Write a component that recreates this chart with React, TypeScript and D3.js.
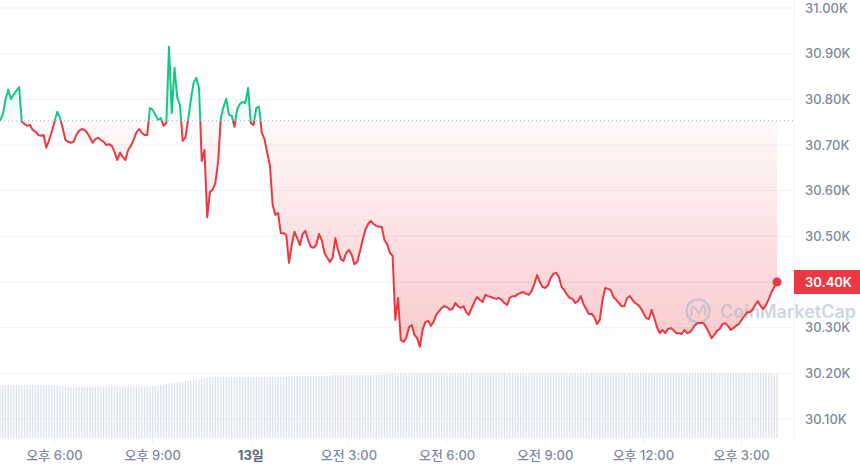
import React from "react";
import * as d3 from "d3";

// 5-minute BTC prices (USD), 12th 16:20 -> 13th 16:05
const PRICES: number[] = [
  30753,30766,30799,30821,30801,30810,30819,30827,30751,30746,
  30742,30744,30733,30729,30722,30720,30722,30694,30711,30729,
  30751,30773,30759,30737,30711,30707,30705,30707,30722,30731,
  30735,30733,30727,30716,30705,30713,30716,30711,30707,30700,
  30702,30698,30685,30667,30683,30674,30667,30689,30698,30711,
  30727,30735,30727,30722,30722,30781,30777,30766,30755,30759,
  30742,30748,30915,30770,30869,30805,30788,30709,30716,30755,
  30799,30836,30847,30825,30665,30689,30542,30597,30602,30617,
  30663,30759,30784,30801,30766,30764,30740,30779,30790,30794,
  30792,30825,30748,30744,30781,30784,30727,30713,30683,30656,
  30569,30547,30551,30507,30507,30503,30442,30481,30510,30496,
  30481,30505,30512,30492,30477,30475,30481,30505,30492,30464,
  30453,30444,30453,30496,30470,30450,30446,30464,30470,30459,
  30439,30444,30466,30492,30514,30527,30534,30527,30523,30521,
  30521,30492,30483,30464,30457,30317,30365,30273,30269,30277,
  30301,30306,30284,30277,30258,30295,30312,30315,30304,30312,
  30328,30336,30343,30347,30345,30339,30341,30354,30347,30343,
  30347,30334,30328,30343,30356,30367,30361,30356,30372,30369,
  30367,30365,30363,30365,30361,30354,30350,30365,30369,30369,
  30374,30376,30378,30374,30372,30380,30396,30415,30400,30389,
  30387,30393,30409,30418,30420,30411,30389,30382,30372,30365,
  30363,30354,30358,30369,30352,30341,30330,30330,30323,30308,
  30317,30361,30387,30385,30382,30367,30361,30354,30347,30347,
  30365,30369,30361,30354,30350,30343,30332,30321,30319,30339,
  30321,30301,30288,30295,30288,30297,30299,30295,30288,30288,
  30286,30295,30288,30290,30297,30306,30310,30310,30310,30301,
  30290,30277,30284,30293,30297,30308,30310,30304,30295,30299,
  30304,30308,30317,30325,30334,30334,30339,30350,30358,30347,
  30341,30350,30363,30378,30389,30400,
];

// 24h volume (billions USD) per point
const VOLUMES: number[] = [
  9.93,9.95,9.94,9.96,9.95,9.94,9.93,9.95,9.96,9.94,
  9.95,9.93,9.94,9.95,9.96,9.94,9.93,9.95,9.94,9.92,
  9.90,9.86,9.78,9.70,9.67,9.66,9.65,9.66,9.67,9.66,
  9.65,9.66,9.66,9.67,9.65,9.66,9.66,9.65,9.67,9.66,
  9.66,9.65,9.66,9.67,9.66,9.65,9.66,9.66,9.67,9.65,
  9.66,9.66,9.65,9.67,9.66,9.66,9.70,9.78,9.86,9.95,
  10.05,10.15,10.25,10.32,10.35,10.40,10.48,10.55,10.62,10.70,
  10.80,10.86,10.92,10.98,11.05,11.20,11.35,11.42,11.44,11.45,
  11.44,11.43,11.44,11.45,11.44,11.43,11.44,11.46,11.44,11.45,
  11.44,11.43,11.45,11.44,11.46,11.44,11.45,11.44,11.43,11.45,
  11.46,11.44,11.45,11.47,11.50,11.55,11.60,11.62,11.63,11.64,
  11.63,11.62,11.63,11.64,11.63,11.62,11.64,11.63,11.63,11.64,
  11.66,11.70,11.76,11.80,11.81,11.82,11.81,11.80,11.81,11.82,
  11.81,11.80,11.82,11.81,11.81,11.82,11.80,11.81,11.82,11.81,
  11.84,11.90,11.98,12.04,12.08,12.09,12.10,12.09,12.08,12.09,
  12.10,12.09,12.08,12.10,12.11,12.09,12.08,12.09,12.10,12.09,
  12.08,12.09,12.10,12.09,12.08,12.07,12.08,12.09,12.10,12.09,
  12.08,12.07,12.06,12.07,12.08,12.09,12.08,12.07,12.08,12.09,
  12.10,12.09,12.08,12.09,12.10,12.11,12.10,12.09,12.08,12.09,
  12.08,12.07,12.08,12.09,12.10,12.09,12.08,12.07,12.06,12.05,
  12.06,12.07,12.08,12.07,12.06,12.05,12.06,12.07,12.08,12.09,
  12.08,12.07,12.06,12.07,12.08,12.07,12.06,12.05,12.04,12.05,
  12.06,12.05,12.04,12.05,12.06,12.07,12.06,12.05,12.06,12.07,
  12.08,12.09,12.10,12.09,12.08,12.09,12.10,12.11,12.12,12.11,
  12.10,12.11,12.12,12.13,12.12,12.11,12.12,12.13,12.14,12.13,
  12.12,12.13,12.14,12.15,12.14,12.13,12.14,12.15,12.16,12.15,
  12.14,12.15,12.16,12.17,12.16,12.15,12.16,12.17,12.18,12.17,
  12.16,12.17,12.18,12.17,12.16,12.15,12.16,12.15,12.14,12.13,
  12.12,12.11,12.10,12.09,12.08,12.07,
];

const OPEN_PRICE = 30753;
const START = new Date(2023, 6, 12, 16, 20);
const STEP_MINUTES = 5;
const Y_TICKS = [30100, 30200, 30300, 30400, 30500, 30600, 30700, 30800, 30900, 31000];
const X_TICK_HOURS = [18, 21, 24, 27, 30, 33, 36, 39];
const X_TICK_LABELS = ["오후 6:00", "오후 9:00", "13일", "오전 3:00", "오전 6:00", "오전 9:00", "오후 12:00", "오후 3:00"];
const BOLD_TICKS = ["13일"];

const GREEN = "#16c784";
const RED = "#ea3943";
const AXIS_TEXT = "#808a9d";
const GRID = "#eff2f5";
const FONT = "Inter, 'Noto Sans CJK KR', sans-serif";

type Pt = { t: Date; p: number; v: number };

export default function App() {
  const W = 860;
  const H = 469;
  const data: Pt[] = PRICES.map((p, i) => ({
    t: new Date(START.getTime() + i * STEP_MINUTES * 60000),
    p,
    v: VOLUMES[i],
  }));
  const plotRight = 794;
  const volBottom = 438;

  const x = d3.scaleTime().domain([data[0].t, data[data.length - 1].t]).range([0, 777]);
  const y = d3.scaleLinear().domain([30100, 31000]).range([419, 8]);
  const yv = d3.scaleLinear().domain([0, 15]).range([volBottom, 358]);
  const by = y(OPEN_PRICE);

  const line = d3.line<Pt>().x((d) => x(d.t)).y((d) => y(d.p)).curve(d3.curveLinear);
  const area = d3.area<Pt>().x((d) => x(d.t)).y0(by).y1((d) => y(d.p));
  const linePath = line(data) || "";
  const areaPath = area(data) || "";

  const fmt = (v: number) => d3.format(".2f")(v / 1000) + "K";
  const last = data[data.length - 1];
  const tickTime = (h: number) => new Date(2023, 6, 12, h, 0);

  return (
    <svg
      width={W}
      height={H}
      style={{ position: "absolute", left: 0, top: 0, display: "block", background: "#fff" }}
      fontFamily={FONT}
    >
      <defs>
        <clipPath id="clipUp">
          <rect x={-5} y={-10} width={W + 10} height={by + 10} />
        </clipPath>
        <clipPath id="clipDown">
          <rect x={-5} y={by} width={W + 10} height={H} />
        </clipPath>
        <linearGradient id="gradGreen" gradientUnits="userSpaceOnUse" x1="0" x2="0" y1={y(30920)} y2={by}>
          <stop offset="0" stopColor={GREEN} stopOpacity={0.2} />
          <stop offset="1" stopColor={GREEN} stopOpacity={0.03} />
        </linearGradient>
        <linearGradient id="gradRed" gradientUnits="userSpaceOnUse" x1="0" x2="0" y1={by} y2={y(30250)}>
          <stop offset="0" stopColor={RED} stopOpacity={0.03} />
          <stop offset="1" stopColor={RED} stopOpacity={0.27} />
        </linearGradient>
      </defs>

      {/* grid */}
      {Y_TICKS.map((v) => (
        <line key={"g" + v} x1={0} x2={plotRight} y1={y(v)} y2={y(v)} stroke={GRID} strokeWidth={1} />
      ))}
      <line x1={plotRight} x2={plotRight} y1={0} y2={volBottom} stroke={GRID} strokeWidth={1} />

      {/* volume bars */}
      {data.map((d, i) => (
        <rect
          key={"v" + i}
          x={x(d.t) - 0.65}
          y={yv(d.v)}
          width={1.3}
          height={volBottom - yv(d.v)}
          fill="#dde1e8"
        />
      ))}

      {/* areas */}
      <path d={areaPath} fill="url(#gradGreen)" clipPath="url(#clipUp)" />
      <path d={areaPath} fill="url(#gradRed)" clipPath="url(#clipDown)" />

      {/* watermark */}
      <g opacity={0.55}>
        <circle cx={698} cy={311} r={11.5} fill="none" stroke="#a9b4c8" strokeWidth={2.6} />
        <path
          d="M691.5,316 L691.5,309 Q692,305 695,308 L698,312 Q699,314 700.5,311 L702,307 Q704,304 705,308 L705,315"
          fill="none"
          stroke="#a9b4c8"
          strokeWidth={2.2}
          strokeLinejoin="round"
          strokeLinecap="round"
        />
        <text x={720} y={318} fontSize={18} fontWeight={600} fill="#a9b4c8">
          CoinMarketCap
        </text>
      </g>

      {/* baseline */}
      <line x1={0} x2={plotRight} y1={by} y2={by} stroke="#a6b0c3" strokeWidth={1} strokeDasharray="1 3" />

      {/* price line */}
      <path d={linePath} fill="none" stroke={GREEN} strokeWidth={2} strokeLinejoin="round" clipPath="url(#clipUp)" />
      <path d={linePath} fill="none" stroke={RED} strokeWidth={2} strokeLinejoin="round" clipPath="url(#clipDown)" />
      <circle cx={x(last.t)} cy={y(last.p)} r={4.5} fill={RED} />

      {/* y axis labels */}
      {Y_TICKS.map((v) => (
        <text key={"yl" + v} x={805} y={y(v)} dy="0.35em" fontSize={13} fill={AXIS_TEXT} fontWeight={500}>
          {fmt(v)}
        </text>
      ))}

      {/* last price label */}
      <rect x={plotRight} y={y(last.p) - 12} width={W - plotRight} height={24} fill={RED} />
      <text x={805} y={y(last.p)} dy="0.35em" fontSize={13} fill="#fff" fontWeight={600}>
        {fmt(last.p)}
      </text>

      {/* x axis */}
      {X_TICK_HOURS.map((h, i) => {
        const xx = x(tickTime(h));
        const lab = X_TICK_LABELS[i];
        const bold = BOLD_TICKS.includes(lab);
        return (
          <g key={"xt" + h}>
            <line x1={xx} x2={xx} y1={volBottom} y2={444} stroke={GRID} />
            <text
              x={xx}
              y={460}
              textAnchor="middle"
              fontSize={13}
              fill={bold ? "#58667e" : AXIS_TEXT}
              fontWeight={bold ? 700 : 500}
            >
              {lab}
            </text>
          </g>
        );
      })}
    </svg>
  );
}
